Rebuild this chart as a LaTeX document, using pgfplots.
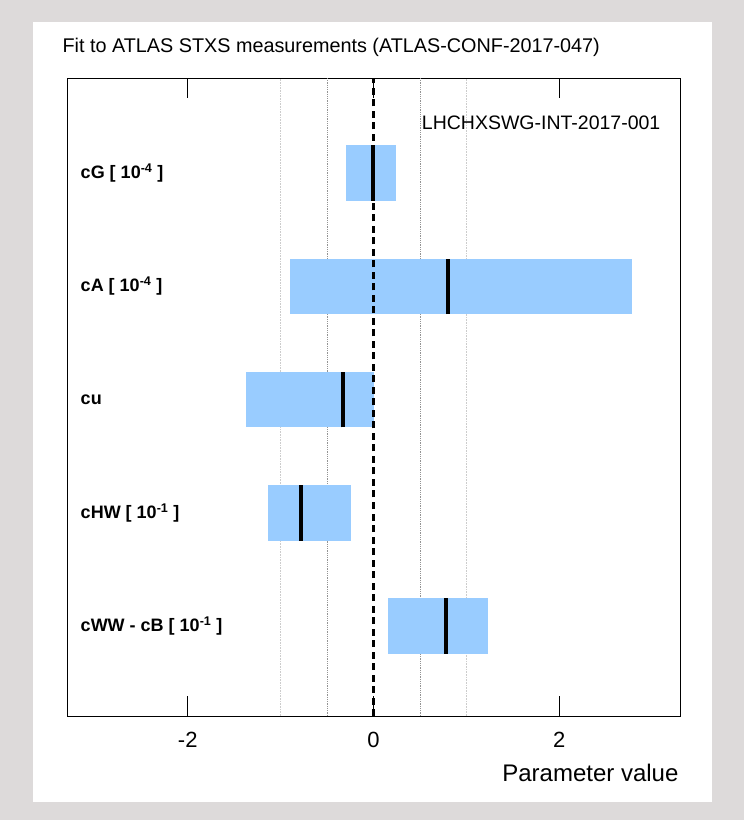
\documentclass[border=0pt]{standalone}
\usepackage{pgfplots}
\pgfplotsset{compat=1.18}
\usepackage{fontspec}
\setmainfont{Liberation Sans}
\definecolor{barblue}{HTML}{99CCFF}
\definecolor{bggray}{HTML}{DDDADA}
\begin{document}
\begin{tikzpicture}[x=1pt,y=1pt]
\fill[bggray] (-67,-104) rectangle (677,716);
\fill[white] (-34,-86) rectangle (645,694);
\begin{axis}[
  at={(0,0)}, anchor=south west,
  scale only axis, width=613pt, height=638pt,
  xmin=-3.3, xmax=3.3, ymin=0.205, ymax=5.84,
  xtick={-2,0,2}, ytick=\empty,
  tick align=inside, major tick length=20pt,
  xtick pos=both,
  tick style={black, line width=0.8pt},
  axis line style={line width=1pt},
  xticklabel style={font=\fontsize{22}{26}\selectfont, yshift=-13pt},
  /pgf/number format/assume math mode=true,
  clip=false,
]
% dotted reference lines
\addplot[gray!40, densely dotted, line width=0.6pt] coordinates {(-1,0.205) (-1,5.84)};
\addplot[gray!40, densely dotted, line width=0.6pt] coordinates {(1,0.205) (1,5.84)};
\addplot[gray!85, densely dotted, line width=0.8pt] coordinates {(-0.5,0.205) (-0.5,5.84)};
\addplot[gray!85, densely dotted, line width=0.8pt] coordinates {(0.5,0.205) (0.5,5.84)};
% bars
\addplot[fill=barblue, draw=none] coordinates {(-0.30,4.755) (0.24,4.755) (0.24,5.245) (-0.30,5.245)} -- cycle;
\addplot[fill=barblue, draw=none] coordinates {(-0.90,3.755) (2.78,3.755) (2.78,4.245) (-0.90,4.245)} -- cycle;
\addplot[fill=barblue, draw=none] coordinates {(-1.37,2.755) (0.01,2.755) (0.01,3.245) (-1.37,3.245)} -- cycle;
\addplot[fill=barblue, draw=none] coordinates {(-1.14,1.755) (-0.24,1.755) (-0.24,2.245) (-1.14,2.245)} -- cycle;
\addplot[fill=barblue, draw=none] coordinates {(0.16,0.755) (1.23,0.755) (1.23,1.245) (0.16,1.245)} -- cycle;
% zero line
\addplot[black, line width=2.4pt, dash pattern=on 7pt off 4.5pt] coordinates {(0,0.205) (0,5.84)};
% central values
\addplot[black, line width=4pt] coordinates {(-0.01,4.755) (-0.01,5.245)};
\addplot[black, line width=4pt] coordinates {(0.80,3.755) (0.80,4.245)};
\addplot[black, line width=4pt] coordinates {(-0.33,2.755) (-0.33,3.245)};
\addplot[black, line width=4pt] coordinates {(-0.78,1.755) (-0.78,2.245)};
\addplot[black, line width=4pt] coordinates {(0.78,0.755) (0.78,1.245)};
% labels
\node[anchor=west, font=\fontsize{18}{21}\selectfont\bfseries] at (axis cs:-3.19,5) {cG [ 10\textsuperscript{-4} ]};
\node[anchor=west, font=\fontsize{18}{21}\selectfont\bfseries] at (axis cs:-3.19,4) {cA [ 10\textsuperscript{-4} ]};
\node[anchor=west, font=\fontsize{18}{21}\selectfont\bfseries] at (axis cs:-3.19,3) {cu};
\node[anchor=west, font=\fontsize{18}{21}\selectfont\bfseries] at (axis cs:-3.19,2) {cHW [ 10\textsuperscript{-1} ]};
\node[anchor=west, font=\fontsize{18}{21}\selectfont\bfseries] at (axis cs:-3.19,1) {cWW - cB [ 10\textsuperscript{-1} ]};
\node[anchor=west, font=\fontsize{19.5}{22}\selectfont] at ([xshift=2pt]rel axis cs:0.57,0.93) {LHCHXSWG-INT-2017-001};
\node[anchor=east, font=\fontsize{24}{28}\selectfont] at ([yshift=-57pt,xshift=2pt]rel axis cs:1,0) {Parameter value};
\node[anchor=west, font=\fontsize{19.8}{23}\selectfont] at ([yshift=31pt,xshift=-8pt]rel axis cs:0,1) {Fit to ATLAS STXS measurements (ATLAS-CONF-2017-047)};
\end{axis}
\end{tikzpicture}
\end{document}
